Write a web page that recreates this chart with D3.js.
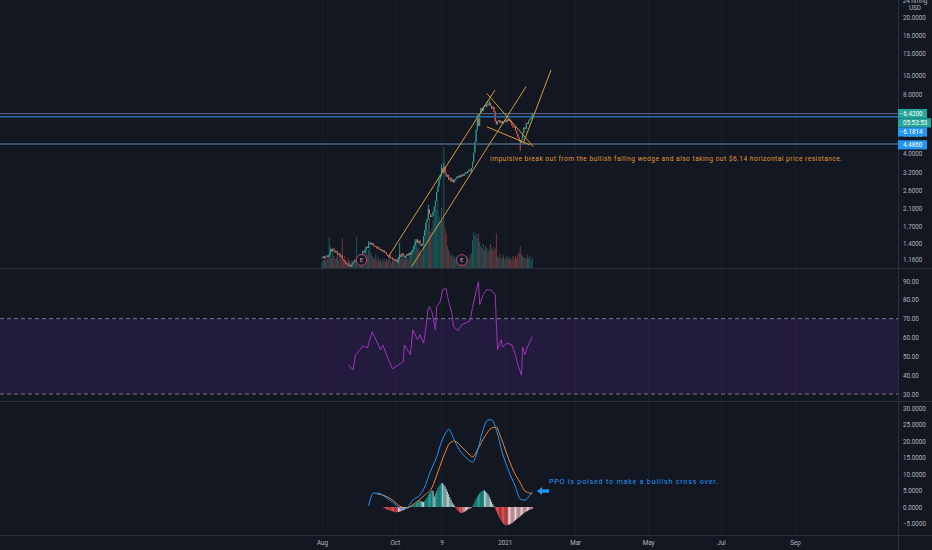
<!DOCTYPE html>
<html>
<head>
<meta charset="utf-8">
<script src="https://cdnjs.cloudflare.com/ajax/libs/d3/7.8.5/d3.min.js"></script>
<style>
  html, body { margin:0; padding:0; background:#131722; overflow:hidden; }
  svg { display:block; font-family: Roboto, "Liberation Sans", sans-serif; }
</style>
</head>
<body>
<svg id="chart"></svg>
<script>
// daily closes, day 0 = 2020-08-01
var closes = [1.18,1.20,1.17,1.19,1.21,1.19,1.23,1.30,1.27,1.31,
  1.28,1.25,1.27,1.22,1.24,1.19,1.21,1.16,1.14,1.12,
  1.09,1.10,1.07,1.08,1.06,1.09,1.12,1.14,1.13,1.16,
  1.15,1.19,1.23,1.22,1.27,1.25,1.30,1.34,1.32,1.38,
  1.41,1.37,1.40,1.36,1.34,1.35,1.31,1.33,1.29,1.30,
  1.27,1.29,1.25,1.26,1.22,1.20,1.21,1.17,1.18,1.15,
  1.16,1.13,1.15,1.12,1.17,1.22,1.19,1.24,1.21,1.18,
  1.20,1.23,1.21,1.25,1.22,1.26,1.30,1.36,1.42,1.46,
  1.40,1.44,1.38,1.35,1.39,1.52,1.63,1.78,1.86,2.08,
  1.97,1.90,1.93,2.02,2.15,2.30,2.55,2.72,2.96,3.12,
  3.38,3.22,3.45,3.20,3.05,3.12,2.95,3.02,2.88,2.96,
  2.86,2.93,3.00,3.07,3.02,3.10,3.05,3.14,3.08,3.16,
  3.22,3.18,3.26,3.32,3.25,3.38,3.62,4.05,4.60,5.30,
  6.05,5.55,6.45,6.85,6.60,6.95,7.10,6.98,7.20,7.12,
  7.30,7.05,6.80,6.95,6.55,5.90,5.65,5.85,5.95,5.75,
  5.88,5.70,5.82,5.95,5.80,6.02,5.88,5.96,5.78,5.60,
  5.45,5.50,5.25,5.05,4.85,4.70,4.55,4.72,5.10,5.45,
  5.35,5.75,5.68,5.92,6.02,6.18,6.42]
var firstOpen = 1.17
// [day, high, low] for candles with visible wicks
var wicks = [[7,1.33,1.22],[39,1.43,1.35],[64,1.19,1.10],[65,1.40,1.16],[78,1.47,1.36],
  [89,2.20,1.84],[100,3.55,3.05],[102,3.62,3.15],[130,6.40,5.25],[138,7.45,6.90],
  [140,7.55,7.00],[145,6.60,5.80],[166,4.70,4.15],[176,6.50,6.10]]
var volumes = [6,8,10,7,9,12,31,14,10,18,12,9,11,16,8,10,12,30,9,12,
  8,6,10,7,5,8,6,9,7,31,8,10,12,9,14,11,16,20,13,18,
  22,15,12,10,9,14,8,11,7,9,6,8,10,6,9,7,12,8,5,7,
  9,6,8,10,7,12,9,14,10,8,11,13,9,15,12,18,16,22,26,28,
  20,24,18,16,14,30,35,42,38,45,50,36,40,48,55,62,58,68,52,46,
  60,48,121,40,35,22,18,15,12,14,10,12,9,11,8,10,12,9,14,10,
  8,12,11,9,13,15,28,36,32,35,30,34,26,22,20,24,18,22,20,16,
  19,24,18,21,17,20,35,12,10,14,9,11,13,8,10,12,9,11,8,10,
  12,9,12,10,14,16,22,14,12,10,11,9,13,10,12,8,10]

var rsiDays = [22,26,28,32,34,38,42,44,49,51,55,59,64,68,69,74,76,80,82,85,
  86,89,90,92,95,96,99,101,104,105,109,110,114,117,121,124,126,129,131,132,
  135,138,142,145,146,147,150,151,155,159,162,164,167,168,170,172,176]
var rsiValues = [45.5,42.8,50.8,53.5,55.6,54.5,63,60.4,53.5,56,49,43.3,45.5,47,56,50.8,64,58.8,61.5,57,
  60.4,75.9,76.4,73.7,64,76.4,79,85.5,86,81.9,72.3,65.9,63.6,66.8,67.9,69,75.9,84.4,89.7,77.5,
  82.8,85.5,85,82.8,66.8,53.5,58.8,55,57,56,50.8,45.5,40,55,50.8,55,60.4]

var ppoDays = [39,43,47,53,59,67,71,76,82,86,89,92,96,100,104,106,110,114,120,126,
  130,134,139,142,146,151,156,162,166,170,174,176]
var ppoValues = [0.3,4.2,4.2,3.0,1.5,-0.6,-0.3,2.1,3.6,6.1,9.1,11.8,15.2,19.7,22.7,23.6,20.9,17.9,15.2,13.6,
  16.7,22.4,26.4,26.4,23.3,16.4,11.2,6.1,2.4,2.1,3.6,4.5]
var signalDays = [46,51,59,65,71,78,86,92,97,103,107,111,117,122,126,131,136,142,146,149,155,160,166,170,174,176]
var signalValues = [4.0,3.6,2.1,0.3,-0.3,1.2,3.6,5.8,10.6,16.4,19.4,20,18.2,16.4,15.2,17.9,21.2,23.9,24.2,21.8,15.8,11.2,7.3,4.8,4.2,4.0]
var histStart = 51
var histValues = [-0.1,-0.3,-0.5,-0.7,-0.9,-1.0,-1.1,-1.2,-1.3,
  -1.4,-1.5,-1.6,-1.6,-1.5,-1.4,-1.3,-1.1,-1.0,-0.8,-0.6,-0.4,-0.2,
  0.1,0.2,0.4,0.5,
  0.7,0.9,1.2,1.5,1.8,2.0,1.8,1.6,1.5,1.8,
  2.4,3.0,3.6,4.2,4.8,5.1,4.9,3.2,
  4.0,4.8,5.6,6.3,6.9,7.3,7.2,
  6.8,6.2,5.5,4.7,3.9,3.0,2.2,1.4,0.8,0.3,
  -0.3,-0.8,-1.2,-1.6,-1.8,-1.8,-1.7,-1.5,-1.3,-1.0,-0.8,-0.6,-0.4,-0.2,0.1,
  0.8,1.6,2.4,3.1,3.7,4.2,4.6,4.9,5.1,5.0,4.7,4.3,3.8,3.1,2.4,1.6,0.9,0.3,
  -0.5,-1.3,-2.1,-2.9,-3.6,-4.2,-4.7,-5.1,-5.4,-5.5,-5.5,-5.4,-5.3,-5.1,-4.9,-4.6,
  -4.3,-4.0,-3.7,-3.4,-3.1,-2.8,-2.5,-2.2,-1.9,-1.6,-1.4,-1.2,-1.0,-0.8,-0.7,-0.5]

var priceTicks = [20,16,13,10,8,5,4,3.2,2.6,2.1,1.7,1.4,1.16]
var rsiTicks = [90,80,70,60,50,40,30]
var ppoTicks = [30,25,20,15,10,5,0,-5]
var timeTicks = [[2020,7,1,"Aug"],[2020,9,1,"Oct"],[2020,10,9,"9"],[2021,0,1,"2021"],
  [2021,2,1,"Mar"],[2021,4,1,"May"],[2021,6,1,"Jul"],[2021,8,1,"Sep"]]

var hLines = [6.42, 6.1814, 4.486]
// drawn trendlines: [day1, price1, day2, price2]
var trendLines = [[55.5,1.19,144.8,8.47],[75.1,1.06,170.8,8.81],[168.5,4.53,191.7,10.72],
  [137.9,8.15,176.9,4.35],[137.9,5.50,174.1,4.44]]
var eventDays = [33, 117]
var noteText = "impulsive break out from the bullish falling wedge and also taking out $6.14 horizontal price resistance."
var notePos = [140.7, 3.68]
var ppoNote = "PPO is poised to make a bullish cross over."
var ppoNotePos = [190, 7.0]
var arrowPos = [180, 4.85]

var W = 932, H = 550
var axisX = 898
var mainBottom = 268, rsiBottom = 401, ppoBottom = 535
var textCol = "#b2b5be", lineCol = "#2a2e39"
var upCol = "#26a69a", downCol = "#ef5350"

var svg = d3.select("#chart").attr("width", W).attr("height", H)
svg.append("rect").attr("width", W).attr("height", H).attr("fill", "#131722")

var base = new Date(2020, 7, 1)
var x = d3.scaleTime().domain([base, new Date(2021, 8, 1)]).range([322, 795])
var dayX = function(d){ return x(new Date(base.getTime() + d*864e5)) }

var yPrice = d3.scaleLog().domain([1.16, 20]).range([259, 17])
var yVol = d3.scaleLinear().domain([0, 121]).range([mainBottom, 147])
var yRsi = d3.scaleLinear().domain([30, 90]).range([394, 281])
var yPpo = d3.scaleLinear().domain([-5, 30]).range([523.5, 408])

var defs = svg.append("defs")
defs.append("clipPath").attr("id", "cMain").append("rect").attr("width", axisX).attr("height", mainBottom)
defs.append("clipPath").attr("id", "cRsi").append("rect").attr("y", mainBottom).attr("width", axisX).attr("height", rsiBottom-mainBottom)
defs.append("clipPath").attr("id", "cPpo").append("rect").attr("y", rsiBottom).attr("width", axisX).attr("height", ppoBottom-rsiBottom)

// faint vertical grid
svg.append("g").selectAll("line").data(timeTicks).enter().append("line")
  .attr("x1", function(d){ return Math.round(x(new Date(d[0],d[1],d[2])))+0.5 })
  .attr("x2", function(d){ return Math.round(x(new Date(d[0],d[1],d[2])))+0.5 })
  .attr("y1", 0).attr("y2", ppoBottom)
  .attr("stroke", "#1a1e29")

// ---------- main pane ----------
var main = svg.append("g").attr("clip-path", "url(#cMain)")

var candles = closes.map(function(c, i){
  var o = i === 0 ? firstOpen : closes[i-1]
  return {day: i, o: o, c: c, h: Math.max(o, c), l: Math.min(o, c), v: volumes[i]}
})
wicks.forEach(function(w){ candles[w[0]].h = w[1]; candles[w[0]].l = w[2] })

main.append("g").selectAll("rect").data(candles).enter().append("rect")
  .attr("x", function(d){ return dayX(d.day) - 0.5 })
  .attr("y", function(d){ return yVol(d.v) })
  .attr("width", 1)
  .attr("height", function(d){ return mainBottom - yVol(d.v) })
  .attr("fill", function(d){ return d.c >= d.o ? upCol : downCol })
  .attr("opacity", 0.45)

main.append("g").selectAll("line").data(candles).enter().append("line")
  .attr("x1", function(d){ return dayX(d.day) })
  .attr("x2", function(d){ return dayX(d.day) })
  .attr("y1", function(d){ return yPrice(d.h) })
  .attr("y2", function(d){ return yPrice(d.l) })
  .attr("stroke", function(d){ return d.c >= d.o ? upCol : downCol })
  .attr("stroke-width", 0.8)

main.append("g").selectAll("rect").data(candles).enter().append("rect")
  .attr("x", function(d){ return dayX(d.day) - 0.5 })
  .attr("y", function(d){ return yPrice(Math.max(d.o, d.c)) })
  .attr("width", 1)
  .attr("height", function(d){ return Math.max(1, yPrice(Math.min(d.o, d.c)) - yPrice(Math.max(d.o, d.c))) })
  .attr("fill", function(d){ return d.c >= d.o ? upCol : downCol })

var hCols = ["#4d5f7c", "#2f6ca6", "#4f6584"]
main.append("g").selectAll("line").data(hLines).enter().append("line")
  .attr("x1", 0).attr("x2", axisX)
  .attr("y1", function(d){ return yPrice(d) }).attr("y2", function(d){ return yPrice(d) })
  .attr("stroke", function(d, i){ return hCols[i] })
  .attr("stroke-width", 1.4)

main.append("g").selectAll("line").data(trendLines).enter().append("line")
  .attr("x1", function(d){ return dayX(d[0]) }).attr("y1", function(d){ return yPrice(d[1]) })
  .attr("x2", function(d){ return dayX(d[2]) }).attr("y2", function(d){ return yPrice(d[3]) })
  .attr("stroke", "#d39b3f").attr("stroke-width", 1)

var ev = main.append("g").selectAll("g").data(eventDays).enter().append("g")
  .attr("transform", function(d){ return "translate(" + dayX(d) + ",260)" })
ev.append("circle").attr("r", 5.3).attr("fill", "#131722").attr("stroke", "#b4426e").attr("stroke-width", 1)
ev.append("text").text("E").attr("text-anchor", "middle").attr("y", 2.2)
  .attr("font-size", 6).attr("fill", "#d9a0b4")

svg.append("text").text(noteText)
  .attr("x", dayX(notePos[0])).attr("y", yPrice(notePos[1]))
  .attr("font-size", 6.6).attr("fill", "#e3982f")
  .attr("textLength", 352).attr("lengthAdjust", "spacing")

// ---------- RSI pane ----------
var rsi = svg.append("g").attr("clip-path", "url(#cRsi)")
rsi.append("rect").attr("x", 0).attr("width", axisX)
  .attr("y", yRsi(70)).attr("height", yRsi(30) - yRsi(70))
  .attr("fill", "rgba(120,50,200,0.17)")
rsi.selectAll(".band").data([70, 30]).enter().append("line")
  .attr("x1", 0).attr("x2", axisX)
  .attr("y1", function(d){ return yRsi(d) }).attr("y2", function(d){ return yRsi(d) })
  .attr("stroke", "#787b86").attr("stroke-dasharray", "4,3")
var rsiLine = d3.line()
  .x(function(d, i){ return dayX(rsiDays[i]) })
  .y(function(d){ return yRsi(d) })
rsi.append("path").datum(rsiValues).attr("d", rsiLine)
  .attr("fill", "none").attr("stroke", "#9a36b6").attr("stroke-width", 1)

// ---------- PPO pane ----------
var ppo = svg.append("g").attr("clip-path", "url(#cPpo)")
var hist = histValues.map(function(v, i){
  var prev = i === 0 ? 0 : histValues[i-1]
  var col
  if (v >= 0) col = v >= prev ? upCol : "#b2dfdb"
  else col = v <= prev ? downCol : "#ffcdd2"
  return {day: histStart + i, v: v, col: col}
})
ppo.append("g").selectAll("rect").data(hist).enter().append("rect")
  .attr("x", function(d){ return dayX(d.day) - 0.5 })
  .attr("y", function(d){ return Math.min(yPpo(0), yPpo(d.v)) })
  .attr("width", 1)
  .attr("height", function(d){ return Math.abs(yPpo(d.v) - yPpo(0)) })
  .attr("fill", function(d){ return d.col })

var ppoLine = d3.line().curve(d3.curveMonotoneX)
  .x(function(d){ return dayX(d[0]) })
  .y(function(d){ return yPpo(d[1]) })
ppo.append("path").datum(signalDays.map(function(d, i){ return [d, signalValues[i]] }))
  .attr("d", ppoLine).attr("fill", "none").attr("stroke", "#e8873a").attr("stroke-width", 1)
ppo.append("path").datum(ppoDays.map(function(d, i){ return [d, ppoValues[i]] }))
  .attr("d", ppoLine).attr("fill", "none").attr("stroke", "#2196f3").attr("stroke-width", 1)

// arrow pointing left at the lines
var ax = dayX(arrowPos[0]), ay = yPpo(arrowPos[1])
svg.append("path")
  .attr("d", "M" + ax + "," + ay + " l5,-4 l0,2.2 l7,0 l0,3.6 l-7,0 l0,2.2 z")
  .attr("fill", "#2196f3")
svg.append("text").text(ppoNote)
  .attr("x", dayX(ppoNotePos[0])).attr("y", yPpo(ppoNotePos[1]))
  .attr("font-size", 7.2).attr("fill", "#2196f3")
  .attr("textLength", 169).attr("lengthAdjust", "spacing")

// ---------- separators ----------
svg.selectAll(".sep").data([mainBottom, rsiBottom, ppoBottom]).enter().append("line")
  .attr("x1", 0).attr("x2", W)
  .attr("y1", function(d){ return d + 0.5 }).attr("y2", function(d){ return d + 0.5 })
  .attr("stroke", lineCol)
svg.append("line").attr("x1", axisX + 0.5).attr("x2", axisX + 0.5).attr("y1", 0).attr("y2", H)
  .attr("stroke", lineCol)

// ---------- axes ----------
var styleAxis = function(g){
  g.select(".domain").remove()
  g.selectAll("text").attr("fill", textCol).attr("font-size", 6.3).attr("font-family", "Roboto, sans-serif")
}
svg.append("g").attr("transform", "translate(" + axisX + ",0)")
  .call(d3.axisRight(yPrice).tickValues(priceTicks).tickFormat(d3.format(".4f")).tickSize(0).tickPadding(5))
  .call(styleAxis)
svg.append("g").attr("transform", "translate(" + axisX + ",0)")
  .call(d3.axisRight(yRsi).tickValues(rsiTicks).tickFormat(d3.format(".2f")).tickSize(0).tickPadding(5))
  .call(styleAxis)
svg.append("g").attr("transform", "translate(" + axisX + ",0)")
  .call(d3.axisRight(yPpo).tickValues(ppoTicks).tickFormat(d3.format(".4f")).tickSize(0).tickPadding(5))
  .call(styleAxis)
svg.append("g").attr("transform", "translate(0," + ppoBottom + ")")
  .call(d3.axisBottom(x)
    .tickValues(timeTicks.map(function(d){ return new Date(d[0], d[1], d[2]) }))
    .tickFormat(function(d, i){ return timeTicks[i][3] })
    .tickSize(0).tickPadding(6))
  .call(styleAxis)

svg.append("text").text("24 hmng").attr("x", 915).attr("y", 2.5).attr("text-anchor", "middle")
  .attr("font-size", 6.3).attr("fill", textCol)
svg.append("text").text("USD").attr("x", 915).attr("y", 9.5).attr("text-anchor", "middle")
  .attr("font-size", 6.3).attr("fill", textCol)

// ---------- price tags ----------
var tags = [
  {y: yPrice(6.42), text: "6.4200", col: upCol, w: 29, dash: true},
  {y: yPrice(6.42) + 9.3, text: "05:53:53", col: upCol, w: 33, dash: false},
  {y: yPrice(6.42) + 18.4, text: "6.1814", col: "#2196f3", w: 29, dash: true},
  {y: yPrice(4.486) + 0.8, text: "4.4860", col: "#2196f3", w: 29, dash: false}
]
var tg = svg.append("g").selectAll("g").data(tags).enter().append("g")
  .attr("transform", function(d){ return "translate(" + axisX + "," + d.y + ")" })
tg.append("rect").attr("y", -4.6).attr("height", 9.2).attr("width", function(d){ return d.w })
  .attr("fill", function(d){ return d.col })
tg.append("text").text(function(d){ return (d.dash ? "- " : "") + d.text })
  .attr("x", function(d){ return d.dash ? 2 : 5 }).attr("y", 2.3)
  .attr("font-size", 6.3).attr("fill", "#ffffff")
</script>
</body>
</html>
